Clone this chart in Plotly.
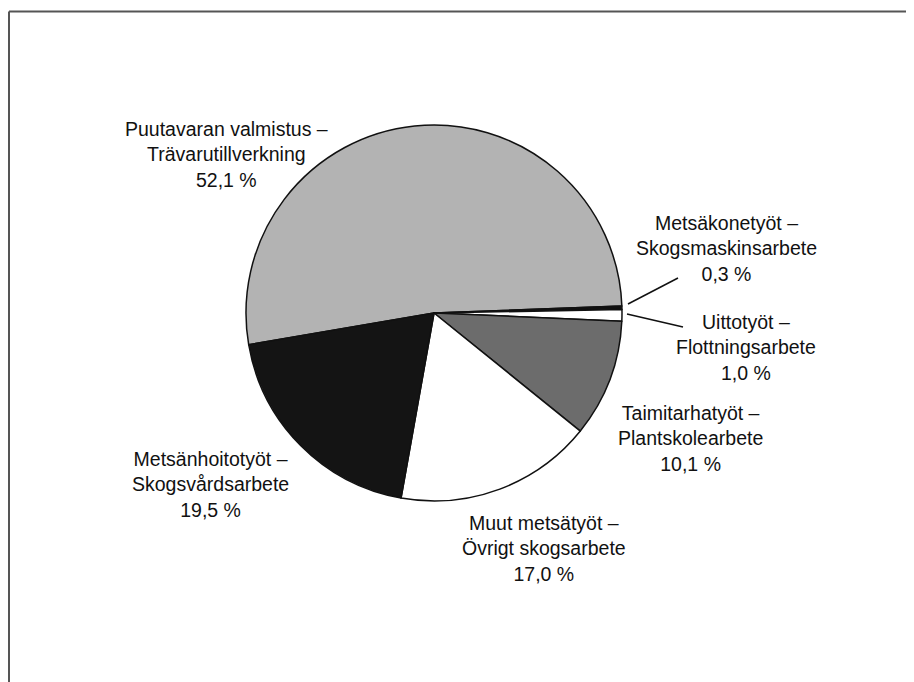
import plotly.graph_objects as go

labels_fi = ["Puutavaran valmistus", "Metsäkonetyöt", "Uittotyöt",
             "Taimitarhatyöt", "Muut metsätyöt", "Metsänhoitotyöt"]
labels_sv = ["Trävarutillverkning", "Skogsmaskinsarbete", "Flottningsarbete",
             "Plantskolearbete", "Övrigt skogsarbete", "Skogsvårdsarbete"]
values = [52.1, 0.3, 1.0, 10.1, 17.0, 19.5]
colors = ["#b3b3b3", "#111111", "#ffffff", "#6c6c6c", "#ffffff", "#141414"]

OFF = 8  # browser body margin
W, H = 914 - OFF, 682 - OFF
FONT = "Liberation Sans, Arial, sans-serif"

def px(x):
    return (x - OFF) / W

def py(y):
    return 1 - (y - OFF) / H

fig = go.Figure()
fig.add_trace(go.Pie(
    labels=labels_fi,
    values=values,
    sort=False,
    direction="clockwise",
    rotation=260.3,
    textinfo="none",
    hoverinfo="label+percent",
    marker=dict(colors=colors, line=dict(color="#111111", width=1.5)),
    domain=dict(x=[px(246), px(622)], y=[py(501), py(125)]),
    showlegend=False,
))

# label positions (screen-pixel centres of text blocks), same order as values
label_pos = [(226, 154), (726, 249), (746, 347), (690, 438), (544, 548), (210, 485)]

def fmt(v):
    return f"{v:.1f}".replace(".", ",") + " %"

annotations = []
for fi, sv, v, (x, y) in zip(labels_fi, labels_sv, values, label_pos):
    annotations.append(dict(
        x=px(x), y=py(y), xref="paper", yref="paper",
        text=f"{fi} –<br>{sv}<br>{fmt(v)}",
        showarrow=False, xanchor="center", yanchor="middle", align="center",
        font=dict(family=FONT, size=19.5, color="#111111"),
    ))

shapes = [
    # frame (top and left edges only visible)
    dict(type="line", xref="paper", yref="paper",
         x0=px(9), x1=1.0, y0=py(11.5), y1=py(11.5),
         line=dict(color="#555555", width=2)),
    dict(type="line", xref="paper", yref="paper",
         x0=px(9), x1=px(9), y0=0.0, y1=py(11.5),
         line=dict(color="#555555", width=2)),
    # leader lines
    dict(type="line", xref="paper", yref="paper",
         x0=px(628), y0=py(304), x1=px(678), y1=py(278),
         line=dict(color="#111111", width=1.5)),
    dict(type="line", xref="paper", yref="paper",
         x0=px(627), y0=py(314), x1=px(683), y1=py(327),
         line=dict(color="#111111", width=1.5)),
]

fig.update_layout(
    width=W, height=H,
    margin=dict(l=0, r=0, t=0, b=0),
    paper_bgcolor="#ffffff",
    plot_bgcolor="#ffffff",
    annotations=annotations,
    shapes=shapes,
    font=dict(family=FONT),
)

fig.write_html("out.html")
